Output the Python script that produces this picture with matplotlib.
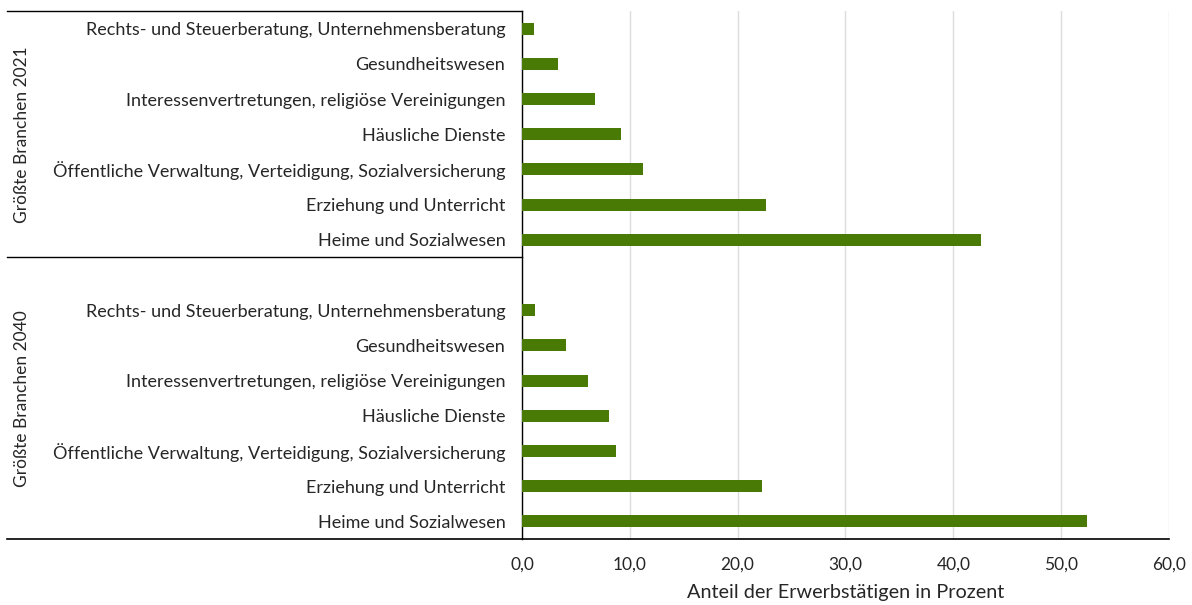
import matplotlib
matplotlib.use("Agg")
import matplotlib.pyplot as plt
import matplotlib.transforms as mtransforms
from matplotlib.ticker import FuncFormatter

# Data
categories = [
    "Rechts- und Steuerberatung, Unternehmensberatung",
    "Gesundheitswesen",
    "Interessenvertretungen, religiöse Vereinigungen",
    "Häusliche Dienste",
    "Öffentliche Verwaltung, Verteidigung, Sozialversicherung",
    "Erziehung und Unterricht",
    "Heime und Sozialwesen",
]
values_2021 = [1.1, 3.3, 6.8, 9.2, 11.2, 22.6, 42.6]
values_2040 = [1.2, 4.1, 6.1, 8.1, 8.7, 22.3, 52.4]
group_labels = ["Größte Branchen 2021", "Größte Branchen 2040"]
x_ticks = [0, 10, 20, 30, 40, 50, 60]
x_label = "Anteil der Erwerbstätigen in Prozent"

plt.rcParams["font.family"] = ["Lato", "DejaVu Sans"]
text_color = "#262626"
bar_color = "#487a05"

# rows: 7 categories 2021, one blank row, 7 categories 2040
n = len(categories)
y_2021 = list(range(n))
y_2040 = [n + 1 + i for i in range(n)]
n_rows = 2 * n + 1

fig = plt.figure(figsize=(11.92, 6.05), dpi=100)
ax = fig.add_axes([0.4379, 0.1091, 0.5428, 0.8727])

ax.barh(y_2021, values_2021, height=0.34, color=bar_color, zorder=3)
ax.barh(y_2040, values_2040, height=0.34, color=bar_color, zorder=3)

ax.set_ylim(n_rows - 0.5, -0.5)
ax.set_xlim(0, 60)
ax.set_yticks(y_2021 + y_2040)
ax.set_yticklabels(categories + categories)
ax.set_xticks(x_ticks)
ax.xaxis.set_major_formatter(FuncFormatter(lambda v, p: f"{v:.1f}".replace(".", ",")))
ax.tick_params(axis="y", length=0, pad=12, labelsize=13, colors=text_color)
ax.tick_params(axis="x", length=0, pad=13, labelsize=12.5, colors=text_color)
ax.set_xlabel(x_label, fontsize=14.3, color=text_color, labelpad=8)

ax.grid(axis="x", color="#dcdcdc", linewidth=1, zorder=0)
for side in ["top", "right", "bottom"]:
    ax.spines[side].set_visible(False)
ax.spines["left"].set_color("black")
ax.spines["left"].set_linewidth(1)

# category-axis frame lines reaching into the label area
trans = mtransforms.blended_transform_factory(ax.transAxes, ax.transData)
left_x = -0.796
for yy in [-0.5, n - 0.5]:
    ax.plot([left_x, 0], [yy, yy], color="black", lw=1, transform=trans, clip_on=False)
ax.plot([left_x, 1.0], [n_rows - 0.5, n_rows - 0.5], color="black", lw=1.2,
        transform=trans, clip_on=False)

# rotated group labels
y_top = ax.transData.transform((0, -0.5))[1]
y_mid = ax.transData.transform((0, n - 0.5))[1]
y_bot = ax.transData.transform((0, n_rows - 0.5))[1]
H = fig.get_size_inches()[1] * fig.dpi
for label, (a, b) in zip(group_labels, [(y_top, y_mid), (y_mid, y_bot)]):
    fig.text(22 / 1192, (a + b) / 2 / H, label, rotation=90, ha="center",
             va="center", fontsize=12.5, color=text_color)

fig.savefig("out.png", dpi=100)
